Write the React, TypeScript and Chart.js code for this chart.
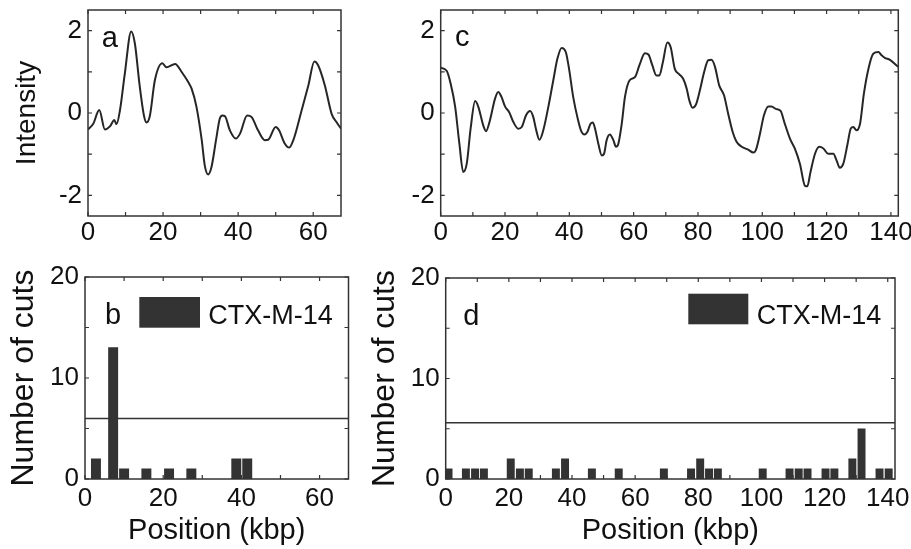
import React, { useEffect, useRef } from 'react';
import { Chart, registerables } from 'chart.js';

Chart.register(...registerables);

const FONT = '"Liberation Sans", Arial, Helvetica, sans-serif';
const TEXT = '#111111';
const LINE = '#262626';
const BAR = '#333333';
const FRAME = '#333333';

// ---------- Panel a: intensity profile ----------
const posA = [0, 1.4, 3.0, 4.5, 5.9, 7.0, 7.6, 8.5, 9.8, 11.5, 12.5, 13.7, 14.9, 15.6, 16.5, 17.8, 19.8, 20.9, 23.2, 25.0, 26.7, 27.6, 28.9, 30.3, 31.1, 32.0, 32.9, 34.1, 35.1, 35.8, 36.5, 37.8, 39.4, 40.5, 42.4, 43.6, 45.3, 47.1, 48.0, 50.0, 50.9, 52.4, 53.6, 54.7, 56.9, 58.7, 60.3, 61.3, 63.1, 64.9, 66.2, 67.4];
const intensityA = [-0.40, -0.26, 0.07, -0.40, -0.32, -0.17, -0.27, 0.06, 0.95, 1.98, 1.68, 0.71, -0.06, -0.23, -0.06, 0.79, 1.21, 1.11, 1.19, 0.99, 0.75, 0.59, 0.15, -0.66, -1.27, -1.49, -1.31, -0.66, -0.14, -0.06, -0.08, -0.42, -0.62, -0.50, -0.06, -0.10, -0.42, -0.66, -0.65, -0.34, -0.42, -0.74, -0.84, -0.66, 0.06, 0.67, 1.25, 1.16, 0.67, -0.02, -0.22, -0.38];

// ---------- Panel c: intensity profile ----------
const posC = [0, 1.9, 3.1, 4.5, 5.8, 7.0, 8.1, 9.3, 10.7, 11.7, 13.3, 14.1, 15.3, 16.9, 17.9, 18.9, 20.0, 21.3, 22.6, 24.1, 25.2, 26.5, 27.8, 28.8, 29.6, 30.7, 31.9, 33.5, 35.0, 36.3, 37.6, 38.9, 40.0, 41.2, 42.5, 43.8, 44.7, 45.6, 46.6, 47.3, 48.0, 49.0, 50.1, 50.8, 51.6, 52.6, 53.7, 54.5, 55.2, 56.3, 57.3, 58.7, 60.4, 61.8, 63.5, 64.6, 65.8, 67.1, 68.0, 69.0, 70.5, 71.5, 72.8, 74.2, 75.4, 76.5, 77.3, 78.3, 79.4, 80.6, 81.9, 83.2, 84.2, 85.3, 86.6, 88.1, 89.4, 90.8, 92.0, 93.6, 95.6, 97.2, 98.0, 99.3, 100.5, 101.9, 102.9, 104.2, 105.7, 107.0, 108.6, 110.1, 111.7, 113.3, 114.0, 115.0, 116.4, 117.7, 119.0, 120.5, 122.1, 123.1, 124.1, 125.2, 126.5, 127.5, 128.3, 129.3, 130.4, 131.6, 133.0, 134.5, 136.1, 137.1, 138.1, 139.7, 142.3];
const intensityC = [1.10, 1.02, 0.71, 0.15, -0.74, -1.43, -1.23, -0.38, 0.29, 0.15, -0.32, -0.44, -0.18, 0.35, 0.51, 0.39, 0.16, 0.02, -0.22, -0.38, -0.34, -0.06, 0.05, -0.10, -0.38, -0.65, -0.42, 0.16, 0.79, 1.32, 1.58, 1.48, 1.03, 0.39, -0.10, -0.46, -0.52, -0.46, -0.26, -0.23, -0.38, -0.74, -1.03, -0.99, -0.66, -0.52, -0.66, -0.82, -0.76, -0.26, 0.39, 0.79, 0.87, 1.16, 1.45, 1.42, 1.16, 0.91, 0.91, 1.20, 1.71, 1.60, 1.07, 0.94, 0.83, 0.59, 0.31, 0.13, 0.21, 0.55, 0.99, 1.28, 1.29, 1.12, 0.67, 0.43, -0.02, -0.46, -0.70, -0.82, -0.89, -0.96, -0.90, -0.50, -0.06, 0.16, 0.16, 0.10, 0.05, -0.26, -0.62, -0.86, -1.23, -1.77, -1.78, -1.43, -0.99, -0.82, -0.86, -0.99, -0.99, -1.15, -1.33, -1.23, -0.76, -0.38, -0.34, -0.42, -0.26, 0.47, 1.07, 1.44, 1.48, 1.40, 1.34, 1.29, 1.12];

// ---------- Panel b: cut histogram ----------
const cutPosB = [2.8, 7.2, 10.0, 15.7, 21.5, 27.2, 38.7, 41.5];
const cutsB = [2, 13, 1, 1, 1, 1, 2, 2];
const thresholdB = 6.0;

// ---------- Panel d: cut histogram ----------
const cutPosD = [0.9, 6.4, 9.3, 12.1, 20.6, 23.5, 26.3, 34.9, 37.8, 46.3, 54.8, 69.1, 77.7, 80.6, 83.4, 86.2, 100.4, 108.9, 111.8, 114.6, 120.3, 123.1, 128.8, 131.7, 137.4, 140.3];
const cutsD = [1, 1, 1, 1, 2, 1, 1, 1, 2, 1, 1, 1, 1, 2, 1, 1, 1, 1, 1, 1, 1, 1, 2, 5, 1, 1];
const thresholdD = 5.6;

const seriesLabel = 'CTX-M-14';
const xMaxA = 67.4;
const xMaxC = 142.3;
const xTicksA = [0, 20, 40, 60];
const xTicksC = [0, 20, 40, 60, 80, 100, 120, 140];
const yTicksTop = [-2, 0, 2];
const yTicksBottom = [0, 10, 20];

const decorPlugin = {
  id: 'decor',
  afterDatasetsDraw(chart: any, _args: any, opts: any) {
    const { ctx, chartArea } = chart;
    const { left, right, top, bottom } = chartArea;
    const xs = chart.scales.x;
    const ys = chart.scales.y;
    ctx.save();
    ctx.strokeStyle = FRAME;
    ctx.lineWidth = 1.5;
    ctx.strokeRect(left, top, right - left, bottom - top);
    ctx.lineWidth = 1.2;
    ctx.beginPath();
    const L = 4;
    for (let v = Math.ceil(xs.min / opts.xStep) * opts.xStep; v <= xs.max + 1e-9; v += opts.xStep) {
      const px = xs.getPixelForValue(v);
      ctx.moveTo(px, bottom);
      ctx.lineTo(px, bottom - L);
      ctx.moveTo(px, top);
      ctx.lineTo(px, top + L);
    }
    for (let v = Math.ceil(ys.min / opts.yStep) * opts.yStep; v <= ys.max + 1e-9; v += opts.yStep) {
      const py = ys.getPixelForValue(v);
      ctx.moveTo(left, py);
      ctx.lineTo(left + L, py);
      ctx.moveTo(right, py);
      ctx.lineTo(right - L, py);
    }
    ctx.stroke();
    ctx.fillStyle = TEXT;
    ctx.textAlign = 'left';
    ctx.textBaseline = 'alphabetic';
    ctx.font = `29px ${FONT}`;
    ctx.fillText(opts.letter, left + opts.letterX, top + opts.letterY);
    if (opts.legend) {
      const lg = opts.legend;
      const ds = chart.data.datasets[0];
      ctx.fillStyle = ds.backgroundColor;
      ctx.fillRect(left + lg.x, top + lg.y, lg.w, lg.h);
      ctx.fillStyle = TEXT;
      ctx.font = `27px ${FONT}`;
      ctx.fillText(ds.label, left + lg.textX, top + lg.textY);
    }
    ctx.restore();
  },
};

function xScale(max: number, ticks: number[], height: number, pad: number, title?: string) {
  return {
    type: 'linear',
    min: 0,
    max,
    offset: false,
    grid: { display: false, drawTicks: false, offset: false },
    border: { display: false },
    ticks: { color: TEXT, font: { size: 26, family: FONT }, padding: pad, autoSkip: false, maxRotation: 0, includeBounds: false },
    afterBuildTicks: (s: any) => {
      s.ticks = ticks.map((v) => ({ value: v }));
    },
    afterFit: (s: any) => {
      s.height = height;
      s.paddingLeft = 0;
      s.paddingRight = 0;
    },
    title: title
      ? { display: true, text: title, color: TEXT, font: { size: 29, family: FONT }, padding: { top: 0, bottom: 1 } }
      : { display: false },
  };
}

function yScale(min: number, max: number, ticks: number[], width: number, title: string | null, titlePad: number, titleSize: number) {
  return {
    type: 'linear',
    min,
    max,
    grid: { display: false, drawTicks: false },
    border: { display: false },
    ticks: { color: TEXT, font: { size: 26, family: FONT }, padding: 6, autoSkip: false, includeBounds: false },
    afterBuildTicks: (s: any) => {
      s.ticks = ticks.map((v) => ({ value: v }));
    },
    afterFit: (s: any) => {
      s.width = width;
      s.paddingTop = 0;
      s.paddingBottom = 0;
    },
    title: title
      ? { display: true, text: title, color: TEXT, font: { size: titleSize, family: FONT }, padding: { top: titlePad, bottom: 0 } }
      : { display: false },
  };
}

function lineConfig(xs: number[], ys: number[], xMax: number, xTicks: number[], yWidth: number, padRight: number, yTitle: string | null, letter: string, letterX: number, letterY: number) {
  return {
    type: 'line',
    data: {
      datasets: [
        {
          label: letter,
          data: xs.map((x, i) => ({ x, y: ys[i] })),
          borderColor: LINE,
          borderWidth: 2,
          pointRadius: 0,
          fill: false,
          cubicInterpolationMode: 'monotone',
        },
      ],
    },
    options: {
      animation: false,
      responsive: false,
      events: [],
      layout: { padding: { left: 0, top: 10, right: padRight, bottom: 0 } },
      plugins: {
        legend: { display: false },
        tooltip: { enabled: false },
        decor: { xStep: 10, yStep: 1, letter, letterX, letterY },
      },
      scales: {
        x: xScale(xMax, xTicks, 46, 1),
        y: yScale(-2.5, 2.5, yTicksTop, yWidth, yTitle, 10, 28),
      },
    },
    plugins: [decorPlugin],
  };
}

function barConfig(pos: number[], counts: number[], threshold: number, xMax: number, xTicks: number[], yWidth: number, padTop: number, padRight: number, barPx: number, titlePad: number, letter: string, letterX: number, letterY: number, legend: any) {
  return {
    type: 'bar',
    data: {
      datasets: [
        {
          type: 'bar',
          label: seriesLabel,
          data: pos.map((x, i) => ({ x, y: counts[i] })),
          backgroundColor: BAR,
          borderWidth: 0,
          barThickness: barPx,
          order: 2,
        },
        {
          type: 'line',
          label: 'threshold',
          data: [
            { x: 0, y: threshold },
            { x: xMax, y: threshold },
          ],
          borderColor: FRAME,
          borderWidth: 1.5,
          pointRadius: 0,
          fill: false,
          order: 1,
        },
      ],
    },
    options: {
      animation: false,
      responsive: false,
      events: [],
      layout: { padding: { left: 0, top: padTop, right: padRight, bottom: 0 } },
      plugins: {
        legend: { display: false },
        tooltip: { enabled: false },
        decor: { xStep: 10, yStep: 5, letter, letterX, letterY, legend },
      },
      scales: {
        x: xScale(xMax, xTicks, 70, 4, 'Position (kbp)'),
        y: yScale(0, 20, yTicksBottom, yWidth, 'Number of cuts', titlePad, 32),
      },
    },
    plugins: [decorPlugin],
  };
}

function ChartCanvas({ left, top, width, height, make }: { left: number; top: number; width: number; height: number; make: () => any }) {
  const ref = useRef<HTMLCanvasElement>(null);
  useEffect(() => {
    const chart = new Chart(ref.current as HTMLCanvasElement, make());
    return () => chart.destroy();
  }, []);
  return (
    <canvas
      ref={ref}
      width={width}
      height={height}
      style={{ position: 'absolute', left, top, width, height }}
    />
  );
}

export default function App() {
  return (
    <div style={{ position: 'absolute', left: 0, top: 0, width: 911, height: 549, background: '#ffffff', overflow: 'hidden' }}>
      <ChartCanvas
        left={0}
        top={0}
        width={360}
        height={262}
        make={() => lineConfig(posA, intensityA, xMaxA, xTicksA, 88, 19, 'Intensity', 'a', 13.7, 36.7)}
      />
      <ChartCanvas
        left={360}
        top={0}
        width={551}
        height={262}
        make={() => lineConfig(posC, intensityC, xMaxC, xTicksC, 80.7, 12.7, null, 'c', 14.3, 36)}
      />
      <ChartCanvas
        left={0}
        top={262}
        width={360}
        height={287}
        make={() =>
          barConfig(cutPosB, cutsB, thresholdB, xMaxA, xTicksA, 85, 15, 11.5, 9.3, 5, 'b', 20, 47.3, {
            x: 54.3, y: 20, w: 60.7, h: 30.7, textX: 123.3, textY: 46.7,
          })
        }
      />
      <ChartCanvas
        left={360}
        top={262}
        width={551}
        height={287}
        make={() =>
          barConfig(cutPosD, cutsD, thresholdD, xMaxC, xTicksC, 85.7, 16, 16, 7.3, 6, 'd', 17.6, 47.3, {
            x: 242.6, y: 15.7, w: 60, h: 30.6, textX: 311, textY: 45.7,
          })
        }
      />
    </div>
  );
}
